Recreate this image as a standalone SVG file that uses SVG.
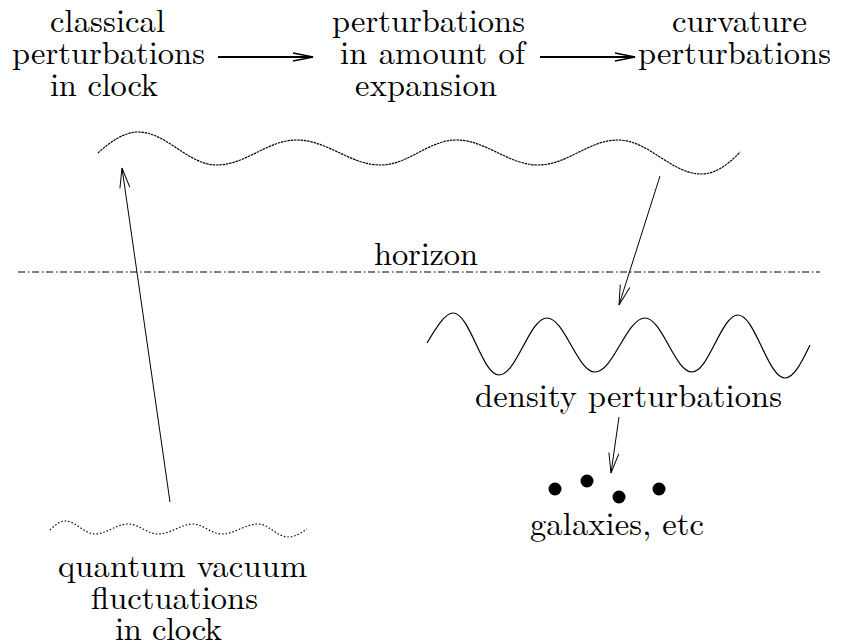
<svg xmlns="http://www.w3.org/2000/svg" width="850" height="643" viewBox="0 0 850 643">
<style>
text{font-family:'Latin Modern Roman',serif;font-size:32.5px;fill:#000}
.wave{fill:none;stroke:#000;stroke-width:1.2}
.conn{fill:none;stroke:#000;stroke-width:1}
.thick{stroke-width:2}
</style>
<defs>
<marker id="ah" markerUnits="userSpaceOnUse" markerWidth="24" markerHeight="12" refX="20" refY="5" orient="auto" overflow="visible">
<path d="M0,0 L20,5 L0,10" fill="none" stroke="#000" stroke-width="1"/>
</marker>
<marker id="ahb" markerUnits="userSpaceOnUse" markerWidth="24" markerHeight="12" refX="20" refY="5" orient="auto" overflow="visible">
<path d="M0,1 L20,5 L0,9" fill="none" stroke="#000" stroke-width="1.6"/>
</marker>
</defs>
<rect width="850" height="643" fill="#fff"/>
<g id="classical">
<text x="50" y="32" textLength="115">classical</text>
<text x="12" y="64" textLength="193">perturbations</text>
<text x="50" y="96" textLength="108">in clock</text>
</g>
<g id="expansion">
<text x="332" y="32" textLength="193">perturbations</text>
<text x="340" y="64" textLength="185">in amount of</text>
<text x="355" y="96" textLength="142">expansion</text>
</g>
<g id="curvature">
<text x="672" y="32" textLength="135">curvature</text>
<text x="638" y="64" textLength="193">perturbations</text>
</g>
<g id="top-wave">
<path class="wave" stroke-width="1.4" stroke-dasharray="2.5 0.8" d="M98,153 C110,142 124,132 138,132 C166.6,132 188.1,165 216.7,165 C245.7,165 267.7,140 296.7,140 C327.3,140 350.1,165 380.7,165 C408.2,165 428.8,140 456.3,140 C486.1,140 508.4,165 538.2,165 C567.2,165 589,140 618,140 C648.5,140 671.2,174 701.7,174 C716,174 730,163 740,152"/>
</g>
<g id="horizon">
<line x1="18" y1="272" x2="820" y2="272" stroke="#000" stroke-width="1" stroke-dasharray="7 3 1.5 2.5"/>
<text x="374" y="265" textLength="104">horizon</text>
</g>
<g id="density-wave">
<path class="wave" d="M427,343 C436,328 445,313 453,313 C470,313 482,375 499,375 C516.5,375 529.5,318 547,318 C564.5,318 577.5,372 595,372 C613.2,372 626.8,318 645,318 C662.1,318 674.9,372 692,372 C708.7,372 721.3,315 738,315 C755.1,315 767.9,378 785,378 C795,378 804,357 810,345"/>
</g>
<g id="density">
<text x="475" y="407" textLength="307">density perturbations</text>
</g>
<g id="galaxies">
<circle cx="555" cy="489" r="6.5"/>
<circle cx="587" cy="481" r="6.5"/>
<circle cx="619" cy="497" r="6.5"/>
<circle cx="659" cy="489" r="6.5"/>
<text x="530" y="535" textLength="174">galaxies, etc</text>
</g>
<g id="quantum-wave">
<path class="wave" stroke-width="1.4" stroke-dasharray="1.5 2" d="M50,530 C55,525 60,521 65,521 C76,521 84,534 95,534 C107,534 116,524 128,524 C139,524 147,534 158,534 C171,534 181,524 193,524 C203,524 211,534 222,534 C235,534 245,524 258,524 C269,524 277,537 288,537 C295,537 301,533 307,529"/>
</g>
<g id="quantum">
<text x="58" y="577" textLength="249">quantum vacuum</text>
<text x="91" y="609" textLength="167">fluctuations</text>
<text x="115" y="640" textLength="107">in clock</text>
</g>
<g id="connectors">
<line class="conn thick" x1="218" y1="57" x2="313" y2="57" marker-end="url(#ahb)"/>
<line class="conn thick" x1="540" y1="57" x2="635" y2="57" marker-end="url(#ahb)"/>
<line class="conn" x1="170" y1="502" x2="122" y2="168" marker-end="url(#ah)"/>
<line class="conn" x1="660" y1="176" x2="619" y2="305" marker-end="url(#ah)"/>
<line class="conn" x1="619" y1="417" x2="611" y2="473" marker-end="url(#ah)"/>
</g>
</svg>
